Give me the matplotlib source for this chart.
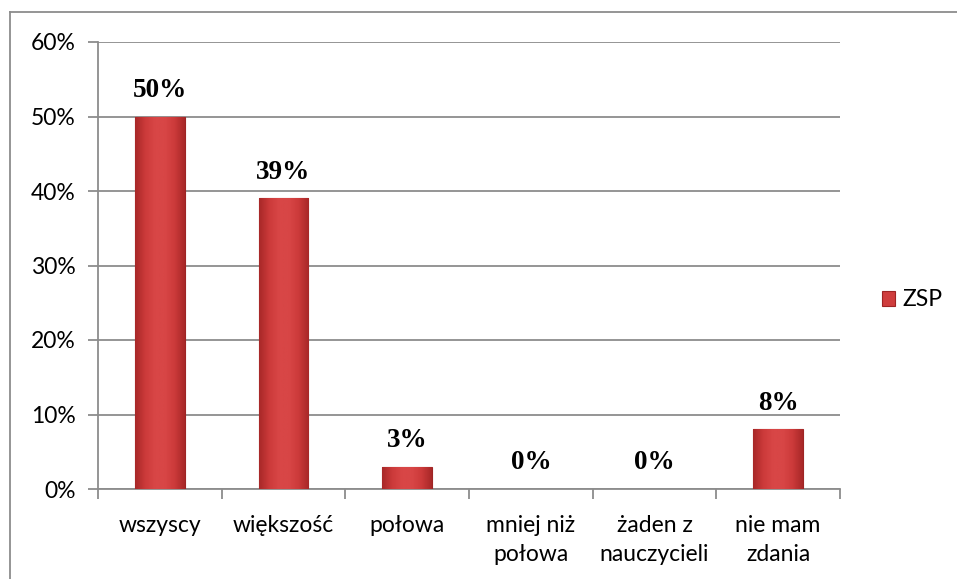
import matplotlib
matplotlib.use("Agg")
import matplotlib.pyplot as plt
from matplotlib.lines import Line2D
from matplotlib.colors import LinearSegmentedColormap
from matplotlib.ticker import FixedLocator, PercentFormatter
import numpy as np

categories = ["wszyscy", "większość", "połowa", "mniej niż\npołowa", "żaden z\nnauczycieli", "nie mam\nzdania"]
values = [50, 39, 3, 0, 0, 8]
series_name = "ZSP"

fig = plt.figure(figsize=(9.57, 5.79), dpi=100)
ax = fig.add_axes([98/957, 1-489/579, (840-98)/957, (489-42)/579])

x = np.arange(len(categories))
bars = ax.bar(x, values, width=0.4, color="#CF3D3D",
              edgecolor=["#9E2424" if v > 0 else "none" for v in values],
              linewidth=0.8, label=series_name, zorder=3)

cmap = LinearSegmentedColormap.from_list("bev", ["#A82828", "#CC3A3A", "#D84646", "#D84646", "#CC3A3A", "#A82828"])
grad = np.linspace(0, 1, 64).reshape(1, -1)
for b, v in zip(bars, values):
    if v <= 0:
        continue
    im = ax.imshow(grad, cmap=cmap, aspect="auto", zorder=3.5,
                   extent=(b.get_x(), b.get_x() + b.get_width(), 0, v))
    im.set_clip_path(b)

ax.set_xlim(-0.5, len(categories) - 0.5)
ax.set_ylim(0, 60)
ax.set_yticks(np.arange(0, 61, 10))
ax.yaxis.set_major_formatter(PercentFormatter(decimals=0))
ax.grid(axis="y", color="#8C8C8C", linewidth=1.3, zorder=0)
ax.set_axisbelow(True)

for s in ["top", "right"]:
    ax.spines[s].set_visible(False)
for s in ["left", "bottom"]:
    ax.spines[s].set_color("#8C8C8C")
    ax.spines[s].set_linewidth(1.3)

tick_font = "Lato"
fs = 16.5
ax.set_xticks(x)
ax.set_xticklabels(categories, fontsize=fs, family=tick_font, linespacing=1.45)
ax.tick_params(axis="x", which="major", length=0, pad=19)
ax.xaxis.set_minor_locator(FixedLocator(np.arange(-0.5, len(categories), 1.0)))
ax.tick_params(axis="x", which="minor", length=7, width=1.3, color="#8C8C8C")
ax.tick_params(axis="y", length=7, width=1.3, color="#8C8C8C", pad=9, labelsize=fs)
for lab in ax.get_yticklabels():
    lab.set_family(tick_font)

for xi, v in zip(x, values):
    ax.annotate(f"{v}%", (xi, v), xytext=(0, 10), textcoords="offset points",
                ha="center", va="bottom", fontsize=19.5, fontweight="bold",
                family="Liberation Serif", zorder=5)

leg = fig.legend(handles=[bars], labels=[series_name], loc="center left",
                 bbox_to_anchor=(861/957, 1-300/579), frameon=False,
                 prop={"family": tick_font, "size": fs}, handlelength=0.6,
                 handleheight=0.6, handletextpad=0.3)

# outer frame (partially visible)
fig.add_artist(Line2D([10/957, 10/957], [0, 1-12/579], color="#8C8C8C", linewidth=1.3, transform=fig.transFigure))
fig.add_artist(Line2D([10/957, 1], [1-12/579, 1-12/579], color="#8C8C8C", linewidth=1.3, transform=fig.transFigure))

fig.savefig("out.png", dpi=100)
